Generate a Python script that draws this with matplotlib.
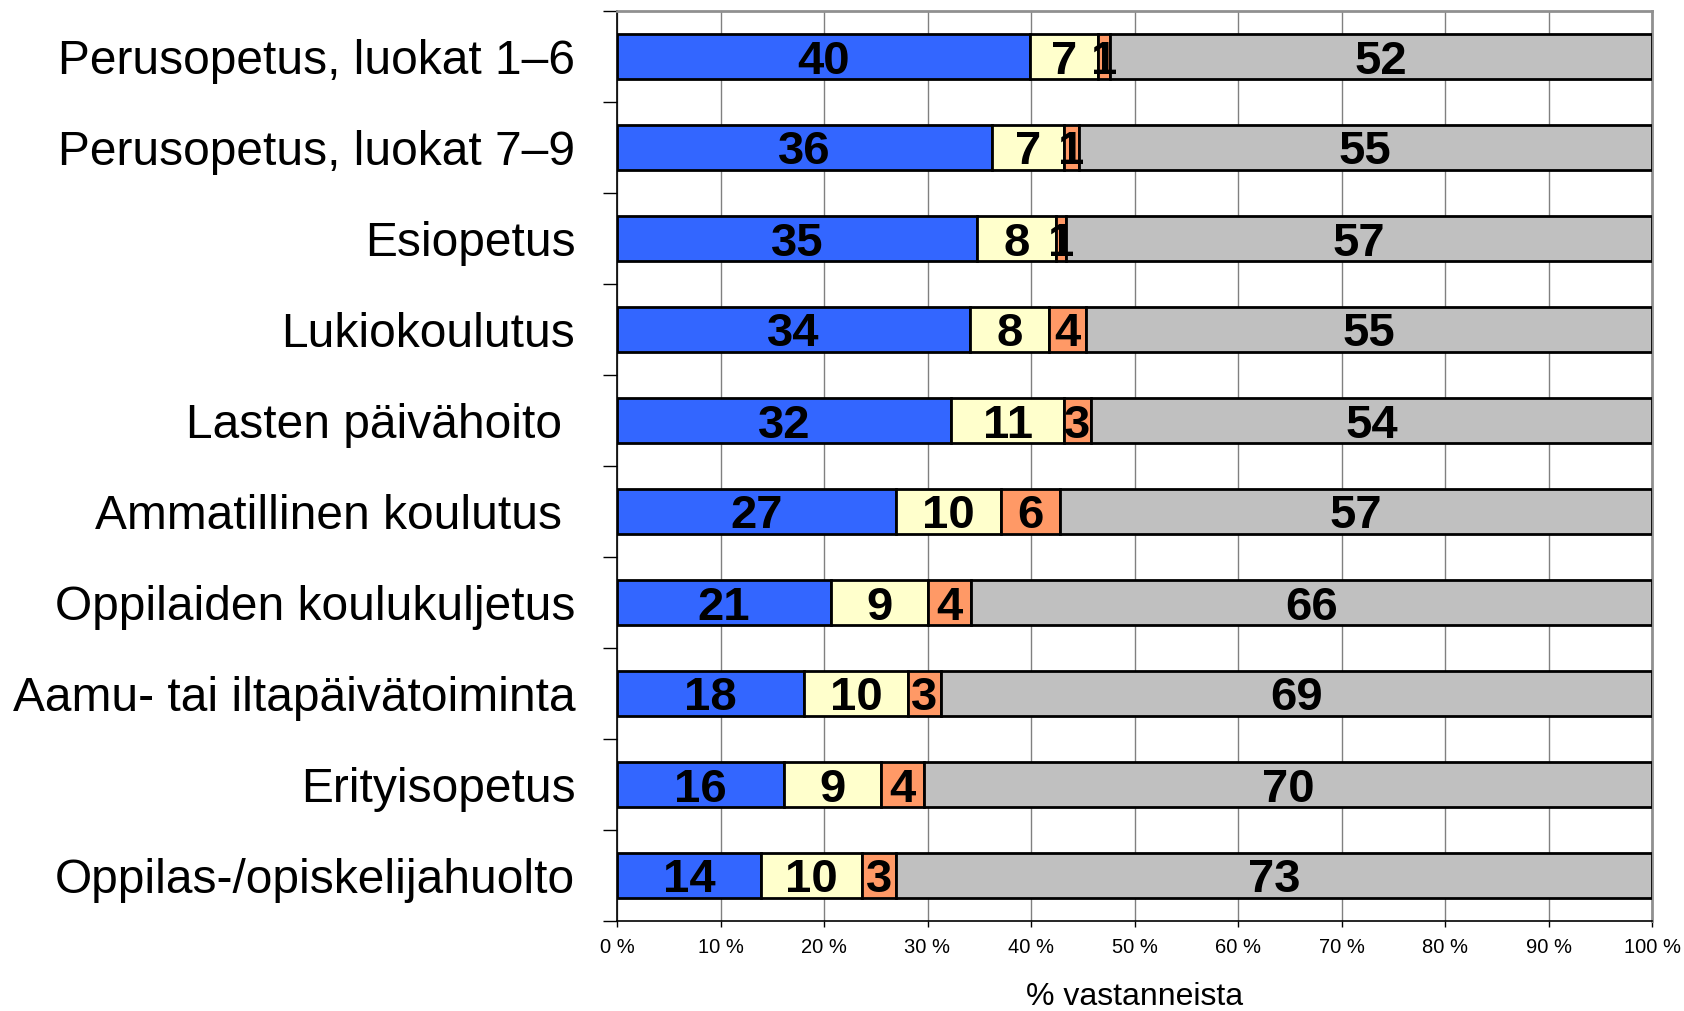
import matplotlib

matplotlib.use("Agg")
import matplotlib.pyplot as plt
import numpy as np
from matplotlib.ticker import FixedLocator

# Data (top to bottom as in the chart)
categories = [
    "Perusopetus, luokat 1–6",
    "Perusopetus, luokat 7–9",
    "Esiopetus",
    "Lukiokoulutus",
    "Lasten päivähoito ",
    "Ammatillinen koulutus ",
    "Oppilaiden koulukuljetus",
    "Aamu- tai iltapäivätoiminta",
    "Erityisopetus",
    "Oppilas-/opiskelijahuolto",
]
# segment shares (% of respondents)
seg_blue = [39.9, 36.2, 34.8, 34.1, 32.3, 27.0, 20.7, 18.1, 16.1, 13.9]
seg_yellow = [6.6, 7.0, 7.6, 7.6, 10.9, 10.1, 9.3, 10.0, 9.4, 9.8]
seg_orange = [1.1, 1.4, 1.0, 3.6, 2.6, 5.7, 4.2, 3.2, 4.2, 3.3]
seg_gray = [52.4, 55.4, 56.6, 54.7, 54.2, 57.2, 65.8, 68.7, 70.3, 73.0]
# value labels as printed on the bars
lab_blue = [40, 36, 35, 34, 32, 27, 21, 18, 16, 14]
lab_yellow = [7, 7, 8, 8, 11, 10, 9, 10, 9, 10]
lab_orange = [1, 1, 1, 4, 3, 6, 4, 3, 4, 3]
lab_gray = [52, 55, 57, 55, 54, 57, 66, 69, 70, 73]
x_ticks = [0, 10, 20, 30, 40, 50, 60, 70, 80, 90, 100]
x_title = "% vastanneista"

COLORS = ["#3366FF", "#FFFFCC", "#FF9966", "#C0C0C0"]

series = np.array([seg_blue, seg_yellow, seg_orange, seg_gray], dtype=float)
labels = [lab_blue, lab_yellow, lab_orange, lab_gray]

fig = plt.figure(figsize=(16.84, 10.11), dpi=100)
ax = fig.add_axes([617 / 1684, 1 - 921 / 1011, (1652 - 617) / 1684, (921 - 11) / 1011])

y = np.arange(len(categories))
left = np.zeros(len(categories))
for vals, labs, col in zip(series, labels, COLORS):
    bars = ax.barh(y, vals, left=left, height=0.5, color=col,
                   edgecolor="black", linewidth=2, zorder=3)
    texts = ax.bar_label(bars, labels=[str(v) for v in labs], label_type="center",
                         fontsize=34, fontweight="bold", color="black",
                         family="Liberation Sans", zorder=4)
    for t in texts:
        t.set_va("center_baseline")
    left += vals

ax.set_xlim(0, 100)
ax.set_ylim(len(categories) - 0.5, -0.5)

# y axis: labels at categories, tick marks at boundaries
ax.set_yticks(y)
ax.set_yticklabels(categories, fontsize=34.5, family="Liberation Sans")
ax.tick_params(axis="y", which="major", length=0, pad=30)
ax.yaxis.set_minor_locator(FixedLocator(np.arange(-0.5, len(categories), 1.0)))
ax.tick_params(axis="y", which="minor", length=10, width=1, color="black")

ax.set_xticks(x_ticks)
ax.set_xticklabels([f"{t} %" for t in x_ticks], fontsize=14.5, family="Liberation Sans")
ax.tick_params(axis="x", length=4, width=1, pad=8)
ax.set_xlabel(x_title, fontsize=23, family="Liberation Sans", labelpad=18)

ax.grid(axis="x", color="#808080", linewidth=1, zorder=0)
ax.set_axisbelow(True)
for side in ("top", "right"):
    ax.spines[side].set_color("#909090")
    ax.spines[side].set_linewidth(2)
for side in ("left", "bottom"):
    ax.spines[side].set_color("black")
    ax.spines[side].set_linewidth(1.2)

fig.savefig("out.png", dpi=100, facecolor="white")
